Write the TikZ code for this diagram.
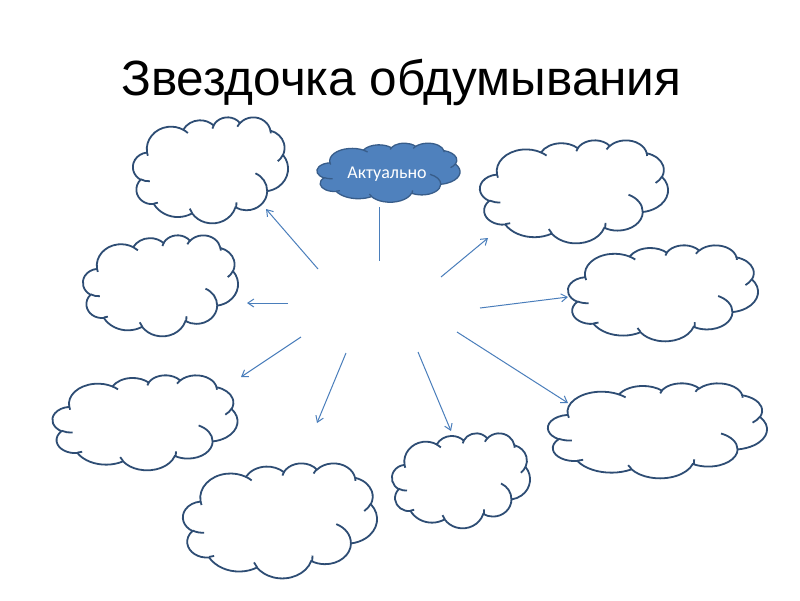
\documentclass[tikz,border=0pt]{standalone}
\usepackage{fontspec}
\setmainfont{Liberation Sans}
\newfontfamily\calib{Carlito}
\usetikzlibrary{arrows.meta}
\definecolor{cline}{HTML}{2E4D74}
\definecolor{bfill}{HTML}{4F81BD}
\definecolor{bline}{HTML}{385D8A}
\definecolor{aline}{HTML}{4A7EBB}
\tikzset{
  carc/.style n args={4}{insert path={arc[start angle={atan2(#1*sin(#3),#2*cos(#3))},
     delta angle={mod(atan2(#1*sin(#3+#4),#2*cos(#3+#4))-atan2(#1*sin(#3),#2*cos(#3))+720,360)},
     x radius=#1, y radius=#2]}},
  pics/ocloud/.style 2 args={code={
    \begin{scope}[shift={(-21.6,-21.6)}]
    \path[fill=#1, draw=#2] (3.900,14.370)
      [carc={6.753}{9.190}{-190.4875}{123.7805}]
      [carc={5.333}{7.267}{-144.1024}{89.9452}]
      [carc={4.365}{5.945}{-145.8079}{99.7230}]
      [carc={4.857}{6.595}{-130.9861}{117.2417}]
      [carc={5.333}{7.273}{-78.7089}{109.0269}]
      [carc={6.775}{9.220}{-46.2673}{130.2690}]
      [carc={5.785}{7.867}{0.6250}{114.0333}]
      [carc={6.752}{9.215}{22.4516}{115.1726}]
      [carc={7.720}{10.543}{66.2426}{75.7110}]
      [carc={4.360}{5.918}{-274.9421}{146.7356}]
      [carc={4.345}{5.945}{-246.8285}{152.5189}] -- cycle;
    \path[draw=#2]
      (4.693,26.177) [carc={4.345}{5.945}{86.7420}{26.4295}]
      (6.928,34.899) [carc={4.360}{5.918}{73.6105}{11.4475}]
      (16.478,39.090) [carc={6.752}{9.215}{137.6242}{14.0811}]
      (28.827,34.751) [carc={6.752}{9.215}{-6.4533}{17.4134}]
      (34.129,22.954) [carc={5.785}{7.867}{-70.2924}{70.9174}]
      (41.798,15.354) [carc={5.333}{7.273}{30.3180}{27.7515}]
      (38.324,5.426) [carc={4.857}{6.595}{-13.7443}{14.8538}]
      (29.078,3.952) [carc={4.857}{6.595}{-149.1815}{18.1954}]
      (22.141,4.720) [carc={4.365}{5.945}{-163.4943}{17.6864}]
      (14.000,5.192) [carc={6.753}{9.190}{-66.7070}{12.3194}]
      (4.127,15.789) [carc={6.753}{9.190}{157.6544}{11.8582}];
    \end{scope}
  }},
  wcloud/.style={line width=1.8pt},
  bcloud/.style={line width=1.3pt},
  arr/.style={draw=aline, line width=1pt, -{Straight Barb[length=6pt,width=8pt]}},
  plainline/.style={draw=aline, line width=1pt},
}
\begin{document}
\begin{tikzpicture}[x=1pt,y=-1pt]
\useasboundingbox[fill=white] (0,0) rectangle (800,600);
\node[anchor=base west, inner sep=0pt, font=\fontsize{49.5}{60}\selectfont] (title) at (121,95) {Звездочка обдумывания};

% white clouds
\pic[wcloud, xscale=3.588, yscale=2.454] at (210.5,170) {ocloud={white}{cline}};
\pic[wcloud, xscale=4.352, yscale=2.384] at (574,191.5) {ocloud={white}{cline}};
\pic[wcloud, xscale=4.398, yscale=2.222] at (663,293) {ocloud={white}{cline}};
\pic[wcloud, xscale=5.069, yscale=2.199] at (657.5,430.5) {ocloud={white}{cline}};
\pic[wcloud, xscale=3.194, yscale=2.199] at (461,480.5) {ocloud={white}{cline}};
\pic[wcloud, xscale=4.491, yscale=2.662] at (280,520.5) {ocloud={white}{cline}};
\pic[wcloud, xscale=4.282, yscale=2.199] at (145,422.5) {ocloud={white}{cline}};
\pic[wcloud, xscale=3.588, yscale=2.338] at (160.5,285.5) {ocloud={white}{cline}};

% blue cloud
\pic[bcloud, xscale=3.310, yscale=1.366] at (388.5,172.5) {ocloud={bfill}{bline}};
\node[anchor=base, inner sep=0pt, text=white, font=\calib\fontsize{18}{21}\selectfont] (act) at (387,178.5) {Актуально};

% connector coordinates
\coordinate (ls) at (379,207);  \coordinate (le) at (379,261);
\coordinate (s1) at (318,269);  \coordinate (e1) at (266,209);
\coordinate (s2) at (288,303);  \coordinate (e2) at (247,303);
\coordinate (s3) at (301,337);  \coordinate (e3) at (241,377);
\coordinate (s4) at (346,353);  \coordinate (e4) at (317,423);
\coordinate (s5) at (418,352);  \coordinate (e5) at (451,431);
\coordinate (s6) at (457,332);  \coordinate (e6) at (568,403);
\coordinate (s7) at (480,308);  \coordinate (e7) at (568,297);
\coordinate (s8) at (441,277);  \coordinate (e8) at (488,238);

\draw[plainline] (ls) -- (le);
\draw[arr] (s1) -- (e1);
\draw[arr] (s2) -- (e2);
\draw[arr] (s3) -- (e3);
\draw[arr] (s4) -- (e4);
\draw[arr] (s5) -- (e5);
\draw[arr] (s6) -- (e6);
\draw[arr] (s7) -- (e7);
\draw[arr] (s8) -- (e8);
\end{tikzpicture}
\end{document}
